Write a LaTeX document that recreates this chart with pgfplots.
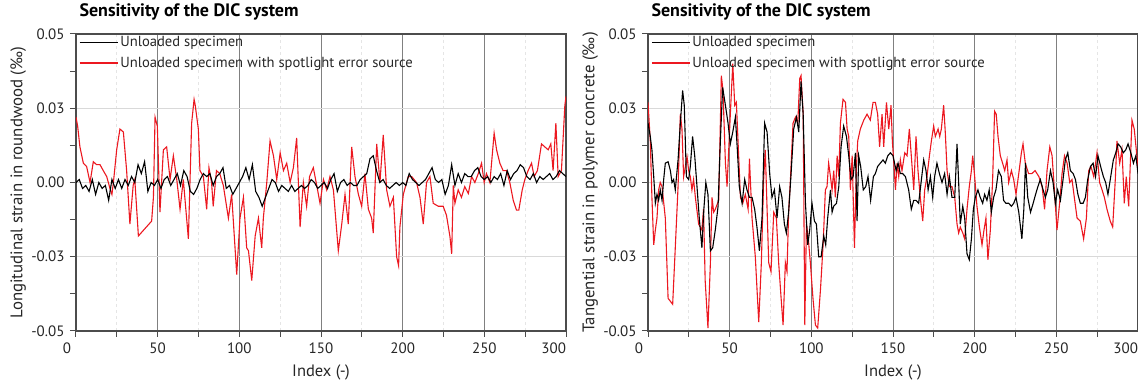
\documentclass[border=0pt]{standalone}
\usepackage{fontspec}
\setmainfont{PT Sans}
\usepackage{pgfplots}
\usepackage{pgfplotstable}
\pgfplotsset{compat=1.18}
\definecolor{myred}{RGB}{236,24,32}

\pgfplotstableread{
x y
0 0
2 1
4 -2
6 -1
8 -3
10 1
12 -4
14 0
16 -2
18 -1
20 -6
22 1
24 -2
26 1
28 -2
30 1
32 -1
34 2
36 0
38 6
40 3
42 7
44 -3
46 0
48 -1
50 1
52 -2
54 1
56 2
58 -1
60 1
62 3
64 -1
66 4
68 2
70 -3
72 -4
74 -2
76 1
78 3
80 2
82 3
84 -1
86 2
88 3
90 5
92 -2
94 -1
96 -4
98 -2
100 0
102 2
104 5
106 1
108 6
110 -3
112 -5
114 -8
116 -5
118 -2
120 1
122 0
124 -3
126 -1
128 -2
130 -3
132 -1
134 -3
136 -2
138 -1
140 -2
142 -1
144 1
146 0
148 -2
150 -1
152 0
154 -2
156 1
158 3
160 -3
162 0
164 1
166 -1
168 0
170 -1
172 -1
174 1
176 2
178 3
180 8
182 9
184 4
186 0
188 1
190 -1
192 -2
194 -1
196 0
198 -1
200 0
202 -1
204 3
206 1
208 0
210 -1
212 0
214 1
216 3
218 5
220 1
222 0
224 1
226 -4
228 -1
230 6
232 -1
234 3
236 0
238 3
240 2
242 2
244 4
246 5
248 2
250 1
252 2
254 0
256 2
258 1
260 3
262 -1
264 4
266 1
268 3
270 4
272 6
274 5
276 2
278 1
280 3
282 0
284 2
286 1
288 2
290 3
292 1
294 2
296 4
298 3
300 2
}\LB

\pgfplotstableread{
x y
0 22
1 19
2.4 12
4.5 6.5
6.5 5.4
8.6 0
10.6 7
12.6 6
14.7 6
16.7 4
18.8 2
20.8 -2
22 -4
22.9 0
24.9 11
26.9 18
29 17
31 4
33 -14
35 -1
36 1
38.2 -18
46.3 -13
47.4 -5
48.4 22
49.8 19
51.4 -10
53.5 11
55.5 12
57.6 1
59.6 9
61.7 1
63.7 -9
65.7 1
68.8 -19
70.8 20
72.3 28
73 26
74.9 18
75.9 4
78 2
80 -9
81.4 5
83 0
84 -8
86 4
88 3
90.2 -1
93.3 -12
95.3 -4
98.4 -31
100.4 -12
102.5 -5
104.5 -22
105.6 -23
107.6 -33
109.7 -18
111.7 -12
113.7 -22
114.7 -12
116.8 0
118.8 14
120.9 9
122.9 1
125 10
127 4
129 6.5
131.1 0
133.1 5
135.1 15
137.2 -15
139.2 0
141.2 -8
143 2
145.3 5
147.4 -1
149.4 -7
151.5 1
153.5 -2.5
155.5 2
157.6 -2.5
160.6 -23
162.7 -14
164.7 -4
166.7 -14
168.8 12
170.8 2
172.9 -4
174.9 -8
176.9 3
179 -9
181 -12
182 -17
184.1 13
186.1 0
188.1 16
190.2 -2.5
192.2 -8
194.3 -5
196.3 -25
197.5 -28
198.3 -15
200.4 -4
203.4 2
205.5 2
208.5 0
210.6 -5
212.6 -14
214.6 0
216.7 2
218.7 -7
221.8 -8
224.8 -8
226.8 -11
228.9 -18
230 -24
231 -1
232 -7
234 -2.5
236 -5
238 -1.4
240.2 -3.7
242.2 2
244.2 0
246.3 3
248.3 6.5
249.9 0
251.3 3
253.4 0
256 16.6
257.5 11
259.5 6.5
261.5 4
263.6 4
265.6 0
267.7 -6
269.7 -9.3
271.1 -9.3
273.2 -2.5
274.8 1
276.8 4
278.9 6.5
280.5 2
282.5 4
285 13
287 12
289.1 11
290.7 13
292.1 4
293.8 20
295.2 2
297.2 4
299.3 26
300 29
}\LR

\pgfplotstableread{
x y
0 27
1.4 14
2.4 -5
3.5 -21
4.5 -16
5.5 -12
6.5 -2.5
7.5 0
8.6 -1.4
10.6 -12
12.3 -39
13.7 -40
15.1 -41
16.7 -22
18.4 -1.4
19.8 23
20.8 18
21.8 2
22.9 5.4
23.9 8.7
24.9 4
25.9 2
26.9 -2.5
27.9 1
29 -5
31 -14
33 -16
34 -9
35 -33
36.7 -49
38.2 -27
39.2 -5
40.2 -10
41.2 -9
43.3 -6
44.9 36
45.9 31
47.4 6.5
48.4 -1.4
50.4 23
51.9 40
53.1 26
54.1 27
55.5 9
56.6 -5
58 -7
59.6 -4
61.3 -9
62.1 8
63.7 -12
65.7 -25
67.8 -47
69.4 -27
70.8 1
71.8 11
73.9 -27
75.3 -30
77 -10
78.6 -12
80 -27
81.5 -39
82.7 -48
84.1 -27
85.1 -30
86.1 -10
87.2 1
88.8 20
90.3 22
91.7 20
92.9 35
93.7 36
95 23
96 -48
97 -14
98 -18
99.4 -27
101 -39
102.5 -48
103.9 -49
105.6 -36
107.2 -21
108.6 -2.5
109.6 -1.4
110.6 6.5
111.7 2
112.7 -2.5
113.7 4
114.7 -5
115.8 9
116.8 2
117.8 20
119.4 28
120.9 27
121.9 18
122.9 15.5
123.9 -2.5
125 9
126.4 -22
127.6 5
128.4 14
130 18
132.1 21
134.1 23
136.1 21
137.8 27
139.2 27
140.6 23
141.8 12
143.3 23
144.3 12
146 27
147.4 18
148.8 26
149.6 14
150.8 4
151.5 -2.5
152.5 6.5
153.5 2
154.5 7.6
155.5 4
157.2 10
158.6 9
160 18
161.2 9
162.7 -2.5
164.1 15.5
165.3 4
166.7 -5
168.2 -13
169.4 -2.5
170.8 2
172.3 9
173.5 14
174.9 19
175.9 15.5
177.6 18
178.6 15.5
179.6 18
181 26
182 17
183.1 4
184.5 -1.4
186.1 -1.4
187.8 -5
189.2 -14
190.2 -17
191.2 -15
192.7 -17
193.9 -19
195.3 -9
196.7 -1.4
198 4
198.8 9
200 2
201.4 -8
202.9 -15
204.5 -21
205.7 -16
206.9 -12
208.1 -26
209.6 -16
211 1
212.2 24
213.2 23
214.3 15.5
215.7 9
217.1 6.5
218.4 4
219.8 7.6
220.8 0
222.5 4
223.9 1
225.3 -4
227 3
228.6 10
229.6 13
231 6.5
233 3
235 3
237 4
239.3 2
241.3 -1.4
242.8 -9
244.3 4
246 12
247.4 9
248.8 -2.5
250.4 -16
252 -7
253.5 3
255 9
256.6 6.5
258.2 0
259.6 1
261 -5
262.7 -12
264.7 -13
266.7 -19
268.4 -12
269.8 4
271.2 5.4
272.9 2
274.9 10
276.5 0
278 -2.5
279.4 -5
281 -9
283 -13
284.5 -15
286.1 1
287.1 14
288.8 6.5
290.2 11
291.6 -7
292.8 2
294.3 -8
296.3 21
297.7 18
299.3 9
300 5
}\RR

\pgfplotstableread{
x y
0 20
1.4 15.5
2.4 11
3.5 2
4.5 -7
5.5 -4
6.5 -6
7.5 -2.5
8.6 -6
9.6 1
10.6 6.5
12.3 7
13.7 4
14.7 0
15.7 1
16.7 -2.5
18.4 7.6
19.8 20
21.2 31
22.2 26
23.5 2
24.9 1
25.9 5.4
27.3 15.5
28.6 9
30 -1.4
31.4 -12
33 -22
34.2 -9
35.4 0
36.7 -4
38.2 -23
39.6 -22
41.2 -16
42.9 -8
44.3 14
45.7 32
47.4 26
49 20
50.4 13
51.9 17
53.5 22
54.7 11
55.9 -1.4
57.6 -7
59.2 1
60.6 -2.5
62.1 -5
63.7 -5
65.3 -9
66.7 -15
68.2 -23
69.8 -12
71.4 20
72.9 17
74.5 3
75.9 -5
77.4 -2.5
79 -12
80.6 -1.4
82 -5
83.5 -14
84.7 -17
86.1 -10
87.6 3
89.2 18
90.9 22
92.3 17
93.7 34
95 23
96.4 -7
97.8 -21
99 -16
100.4 -7
101.9 -13
103.1 -14
104.5 -25
106 -25
107.6 -18
108.8 -21
110 -12
111.7 -2.5
112.7 -10
113.7 -8
115.4 -7
116.8 -1.4
118.2 12
119.8 19
121.5 15.5
122.9 9
124.3 1
125.6 2
127 10
128 -13
129 9
130.2 5.4
131.8 -2.5
133.3 -1.4
134.7 2
136.3 -6
138 2
139.2 3
140.6 5.4
142.2 6.5
143.9 7.6
145.3 6.5
146.8 9
148.4 10
150 9
151.9 4
153.1 6.5
154.5 3
155.9 3
157.6 2
159.6 -2.5
161.2 -9
162.7 -6
164.1 -6
165.7 -7
167.4 1
168.8 7.6
170.2 4
171.5 -2.5
172.9 2
174.3 -5
175.5 2
176.9 6.5
178.4 3
180 0
181.6 3
183.1 -4
184.5 2
186.1 -5
187.8 -5
189.2 13
190.2 0
191.2 -14
192.7 -8
193.9 -12
195.3 -24
196.7 -26
198 -19
199.2 -9
200.4 -5
202 -2.5
203.4 -5
204.9 -7
206.1 -4
207.5 -6
208.9 -2.5
210.2 -10
211.6 -5
213 -2.5
214.6 4
216.3 2
217.7 -6
219.1 -7
220.8 -7
222.5 -8
223.9 -7
225.3 -5
227 -10
228.9 -19
230.1 -9
231.1 6.5
232.5 -5
234.2 -10
235.8 -7
237.3 -4
238.7 -1.4
240.2 1
241.9 -2.5
243.3 -5
244.7 -2.5
246.4 4
248 0
249.4 -7
250.8 -2.5
252.5 -6
254.1 1
255.5 7.6
257 10
258.6 4
260.3 3
261.7 1
263.2 -4
264.7 -7
266.4 -7
267.8 -5
269.2 1
270.9 5.4
272.5 6.5
274 2
275.5 9
277.1 5.4
278.8 2
280.2 0
281.6 -4
283.3 2
284.9 7.6
286.4 10
287.8 13
289.4 12
291 10
292.5 11
293.9 13
295.6 10
297.2 6.5
298.7 9
300 3
}\RB

\pgfplotsset{
  dicstyle/.style={
    scale only axis, width=490pt, height=297pt,
    xmin=0, xmax=300, ymin=-50, ymax=50,
    xtick={0,50,...,300}, minor xtick={25,75,...,275},
    xticklabels={\makebox[0pt][r]{0\hspace{5pt}},50,100,150,200,250,\makebox[0pt][r]{300}},
    ytick={-50,-25,0,25,50},
    yticklabels={-0.05,-0.03,0.00,0.03,0.05},
    minor ytick={-37.5,-12.5,12.5,37.5},
    tick align=outside, tick pos=left,
    major tick length=6pt, minor tick length=6pt,
    every tick/.style={black!70, line width=1pt},
    xmajorgrids, xminorgrids, ymajorgrids,
    major x grid style={black!50, line width=0.7pt},
    minor x grid style={black!10, dashed, line width=0.7pt},
    major y grid style={black!15, line width=0.8pt},
    axis line style={black!70, line width=1.2pt},
    tick label style={font=\fontsize{15}{18}\selectfont, text=black!85},
    xticklabel style={yshift=-2pt},
    yticklabel style={xshift=-2pt},
    xlabel={Index (-)},
    xlabel style={at={(axis description cs:0.5,-0.141)}, anchor=center, font=\fontsize{16.5}{19}\selectfont, text=black!85},
    ylabel style={at={(axis description cs:-0.118,0.5)}, anchor=center, rotate=0, font=\fontsize{16.8}{19}\selectfont, text=black!85},
    title style={at={(axis description cs:0,1)}, anchor=base west, yshift=11pt, font=\fontsize{18}{21}\selectfont\bfseries},
    title={Sensitivity of the DIC system},
    legend style={at={(axis description cs:0,1)}, anchor=north west, xshift=2pt, yshift=1pt,
      draw=none, fill=none, font=\fontsize{14.6}{17}\selectfont, text=black!85, row sep=5pt,
      inner sep=1pt},
    legend cell align=left,
    reverse legend,
    legend image code/.code={\draw[#1] (0pt,0pt) -- (38pt,0pt);},
  }
}

\begin{document}
\begin{tikzpicture}
\useasboundingbox (-76pt,-54pt) rectangle (1062pt,331pt);
\begin{axis}[dicstyle, ylabel={Longitudinal strain in roundwood (‰)}]
\addplot[myred, line width=1.1pt] table {\LR};
\addlegendentry{Unloaded specimen with spotlight error source}
\addplot[black, line width=1.1pt] table {\LB};
\addlegendentry{Unloaded specimen}
\end{axis}
\begin{axis}[dicstyle, at={(572pt,0pt)}, ylabel={Tangential strain in polymer concrete (‰)}]
\addplot[myred, line width=1.1pt] table {\RR};
\addlegendentry{Unloaded specimen with spotlight error source}
\addplot[black, line width=1.1pt] table {\RB};
\addlegendentry{Unloaded specimen}
\end{axis}
\end{tikzpicture}
\end{document}
